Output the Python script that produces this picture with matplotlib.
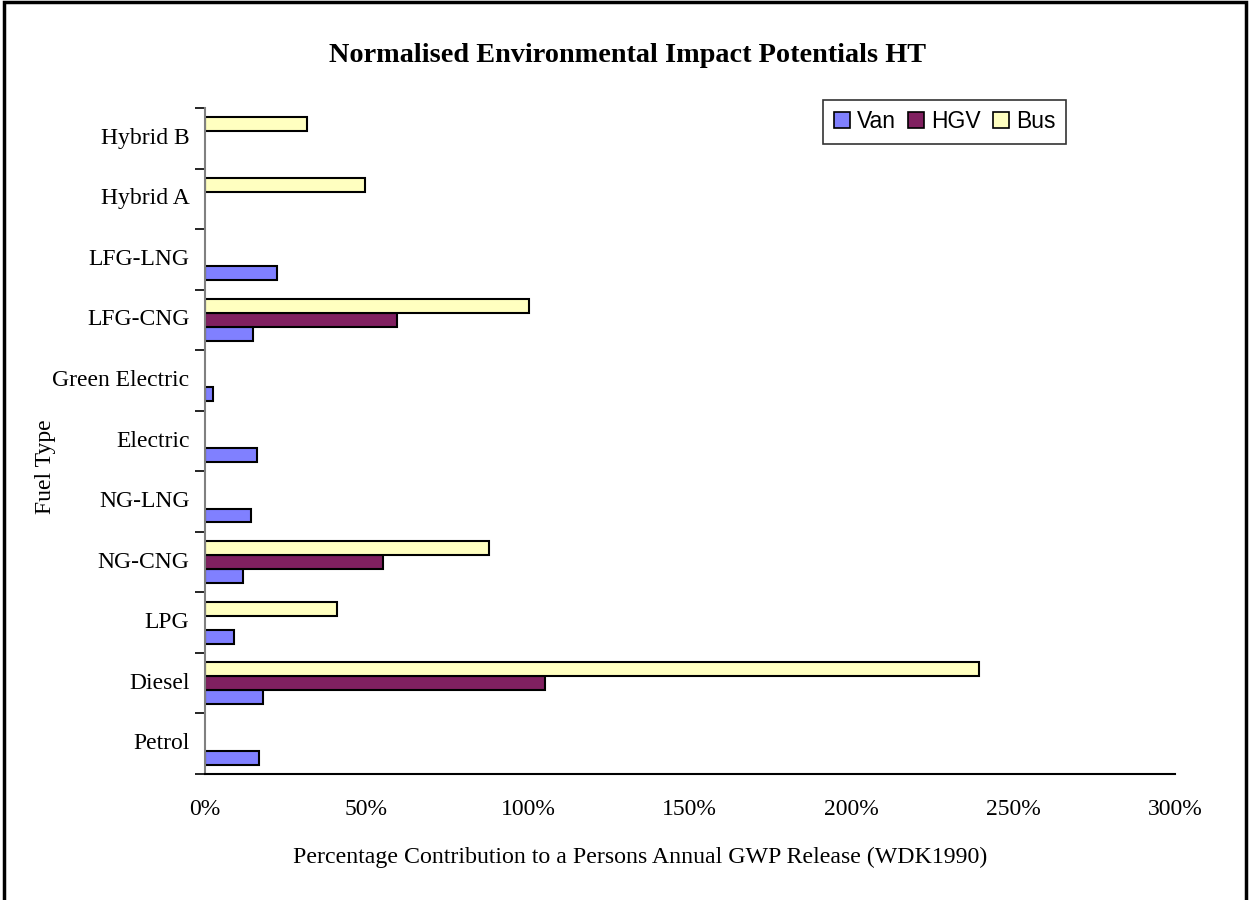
import numpy as np
import matplotlib.pyplot as plt
from matplotlib.patches import Rectangle

# Normalised HT impact, % of a person's annual GWP release (WDK1990)
fuels = ["Petrol", "Diesel", "LPG", "NG-CNG", "NG-LNG", "Electric",
         "Green Electric", "LFG-CNG", "LFG-LNG", "Hybrid A", "Hybrid B"]
van = [16.7, 17.9, 9.2, 11.7, 14.3, 16.2, 2.5, 14.8, 22.4, 0, 0]
hgv = [0, 105.2, 0, 55.0, 0, 0, 0, 59.4, 0, 0, 0]
bus = [0, 239.4, 40.8, 87.9, 0, 0, 0, 100.3, 0, 49.5, 31.6]
xticks = [0, 50, 100, 150, 200, 250, 300]

serif = "Liberation Serif"

fig = plt.figure(figsize=(12.51, 9.0), dpi=100)
ax = fig.add_axes([0.1636, 0.14, 0.7756, 0.74])

y = np.arange(len(fuels))
h = 0.23
series = [(van, "#8080FF", "Van"), (hgv, "#802060", "HGV"), (bus, "#FFFFC0", "Bus")]
for i, (vals, col, name) in enumerate(series):
    v = np.array(vals, dtype=float)
    pos = y + (i - 1) * h
    mask = v > 0
    ax.barh(pos[mask], v[mask], height=h, color=col, edgecolor="black",
            linewidth=1.5, label=name)

ax.set_xlim(0, 300)
ax.set_ylim(-0.5, len(fuels) - 0.5)
ax.set_xticks(xticks)
ax.set_xticklabels(["{}%".format(t) for t in xticks], fontfamily=serif, fontsize=17)
ax.tick_params(axis="x", length=0, pad=18)

# ticks sit between categories, labels in the middle
ax.set_yticks(np.arange(-0.5, len(fuels), 1.0))
ax.set_yticklabels([])
ax.set_yticks(y + 0.04, minor=True)
ax.set_yticklabels(fuels, minor=True, fontfamily=serif, fontsize=17)
ax.tick_params(axis="y", which="major", length=7, width=1.2, direction="out")
ax.tick_params(axis="y", which="minor", length=0, pad=11)

for s in ["top", "right"]:
    ax.spines[s].set_visible(False)
ax.spines["left"].set_color("#808080")
ax.spines["left"].set_linewidth(1.5)
ax.spines["bottom"].set_linewidth(1.5)

fig.text(640 / 1251, 1 - 857 / 900,
         "Percentage Contribution to a Persons Annual GWP Release (WDK1990)",
         fontfamily=serif, fontsize=17.2, ha="center", va="center")
fig.text(46 / 1251, 1 - 467 / 900, "Fuel Type", rotation=90,
         fontfamily=serif, fontsize=17, ha="center", va="center")

fig.text(627.5 / 1251, 1 - 55 / 900, "Normalised Environmental Impact Potentials HT",
         fontfamily=serif, fontweight="bold", fontsize=20.3, ha="center", va="center")

leg = ax.legend(loc="upper left", bbox_to_anchor=(0.6376, 1.012), ncol=3,
                frameon=True, fancybox=False, prop={"family": "Liberation Sans", "size": 16.5},
                handlelength=0.7, handleheight=0.7, handletextpad=0.3,
                columnspacing=0.55, borderpad=0.45, borderaxespad=0)
leg.get_frame().set_edgecolor("black")
leg.get_frame().set_linewidth(1.2)
for p in leg.get_patches():
    p.set_linewidth(1.2)

# chart area border
fig.patches.append(Rectangle((0.003, -0.02), 0.993, 1.018, transform=fig.transFigure,
                             fill=False, edgecolor="black", linewidth=2.5))

fig.savefig("out.png", dpi=100)
